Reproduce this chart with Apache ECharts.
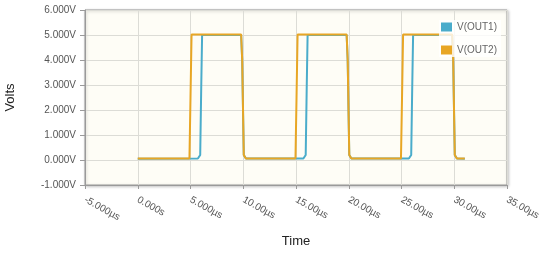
<!DOCTYPE html>
<html>
<head>
<meta charset="utf-8">
<script src="https://cdn.jsdelivr.net/npm/echarts@6/dist/echarts.min.js"></script>
<style>html,body{margin:0;padding:0;background:#fff;}#c{width:540px;height:258px;}</style>
</head>
<body>
<div id="c"></div>
<script>
var xTickLabels = ['-5.000µs','0.000s','5.000µs','10.00µs','15.00µs','20.00µs','25.00µs','30.00µs','35.00µs'];
var yTickLabels = ['-1.000V','0.000V','1.000V','2.000V','3.000V','4.000V','5.000V','6.000V'];
var seriesNames = ['V(OUT1)','V(OUT2)'];
var out1Time = [0, 5.7, 5.92, 6.02, 6.1, 9.8, 9.9, 10.05, 10.25, 15.7, 15.92, 16.02, 16.1, 19.8, 19.9, 20.05, 20.25, 25.7, 25.92, 26.02, 26.1, 29.8, 29.9, 30.05, 30.25, 31.0];
var out1Volt = [0.05, 0.06, 0.2, 3.0, 5.0, 5.0, 4.0, 0.2, 0.06, 0.06, 0.2, 3.0, 5.0, 5.0, 4.0, 0.2, 0.06, 0.06, 0.2, 3.0, 5.0, 5.0, 4.0, 0.2, 0.06, 0.05];
var out2Time = [0, 4.9, 5.0, 5.1, 9.8, 9.9, 10.05, 10.25, 14.95, 15.05, 15.15, 19.8, 19.9, 20.05, 20.25, 24.95, 25.05, 25.15, 29.8, 29.9, 30.05, 30.25, 31.0];
var out2Volt = [0.06, 0.06, 2.5, 5.02, 5.02, 4.0, 0.2, 0.06, 0.06, 2.5, 5.02, 5.02, 4.0, 0.2, 0.06, 0.06, 2.5, 5.02, 5.02, 4.0, 0.2, 0.06, 0.06];

function zip(a, b) { return a.map(function (v, i) { return [v, b[i]]; }); }

var chart = echarts.init(document.getElementById('c'));
chart.setOption({
  animation: false,
  backgroundColor: '#ffffff',
  grid: {
    left: 85, right: 33, top: 10, bottom: 73,
    outerBoundsMode: 'none', containLabel: false,
    show: true, backgroundColor: '#fefdf6', borderColor: '#9a9a9a', borderWidth: 1,
    shadowColor: 'rgba(0,0,0,0.25)', shadowBlur: 3, shadowOffsetX: 1, shadowOffsetY: 1
  },
  legend: {
    orient: 'vertical', left: 439, top: 20, itemWidth: 11, itemHeight: 9, itemGap: 13,
    padding: [2, 4, 2, 2],
    backgroundColor: 'rgba(255,255,255,0.8)',
    textStyle: { fontFamily: 'Liberation Sans', fontSize: 10, color: '#666' },
    icon: 'rect',
    data: seriesNames
  },
  xAxis: {
    type: 'value', min: -5, max: 35, interval: 5,
    name: 'Time', nameLocation: 'middle', nameGap: 50,
    nameTextStyle: { fontFamily: 'Liberation Sans', fontSize: 13, color: '#222' },
    axisLine: { show: true, onZero: false, lineStyle: { color: '#9a9a9a' } },
    axisTick: { show: true, length: 4, lineStyle: { color: '#9a9a9a' } },
    axisLabel: {
      rotate: -29, margin: 14, fontFamily: 'Liberation Sans', fontSize: 10, color: '#555',
      formatter: function (v) { return xTickLabels[Math.round((v + 5) / 5)]; }
    },
    splitLine: { show: true, lineStyle: { color: '#dcdcd6' } }
  },
  yAxis: {
    type: 'value', min: -1, max: 6, interval: 1,
    name: 'Volts', nameLocation: 'middle', nameGap: 68, nameRotate: 90,
    nameTextStyle: { fontFamily: 'Liberation Sans', fontSize: 13, color: '#222' },
    axisLine: { show: true, onZero: false, lineStyle: { color: '#9a9a9a' } },
    axisTick: { show: true, length: 5, lineStyle: { color: '#9a9a9a' } },
    axisLabel: {
      margin: 9, fontFamily: 'Liberation Sans', fontSize: 10, color: '#555',
      formatter: function (v) { return yTickLabels[Math.round(v + 1)]; }
    },
    splitLine: { show: true, lineStyle: { color: '#dcdcd6' } }
  },
  series: [
    { name: seriesNames[0], type: 'line', data: zip(out1Time, out1Volt), showSymbol: false, symbol: 'none',
      itemStyle: { color: '#4aaccb' }, lineStyle: { color: '#4aaccb', width: 2 }, z: 2 },
    { name: seriesNames[1], type: 'line', data: zip(out2Time, out2Volt), showSymbol: false, symbol: 'none',
      itemStyle: { color: '#e8a624' }, lineStyle: { color: '#e8a624', width: 2 }, z: 3 }
  ]
});
</script>
</body>
</html>
